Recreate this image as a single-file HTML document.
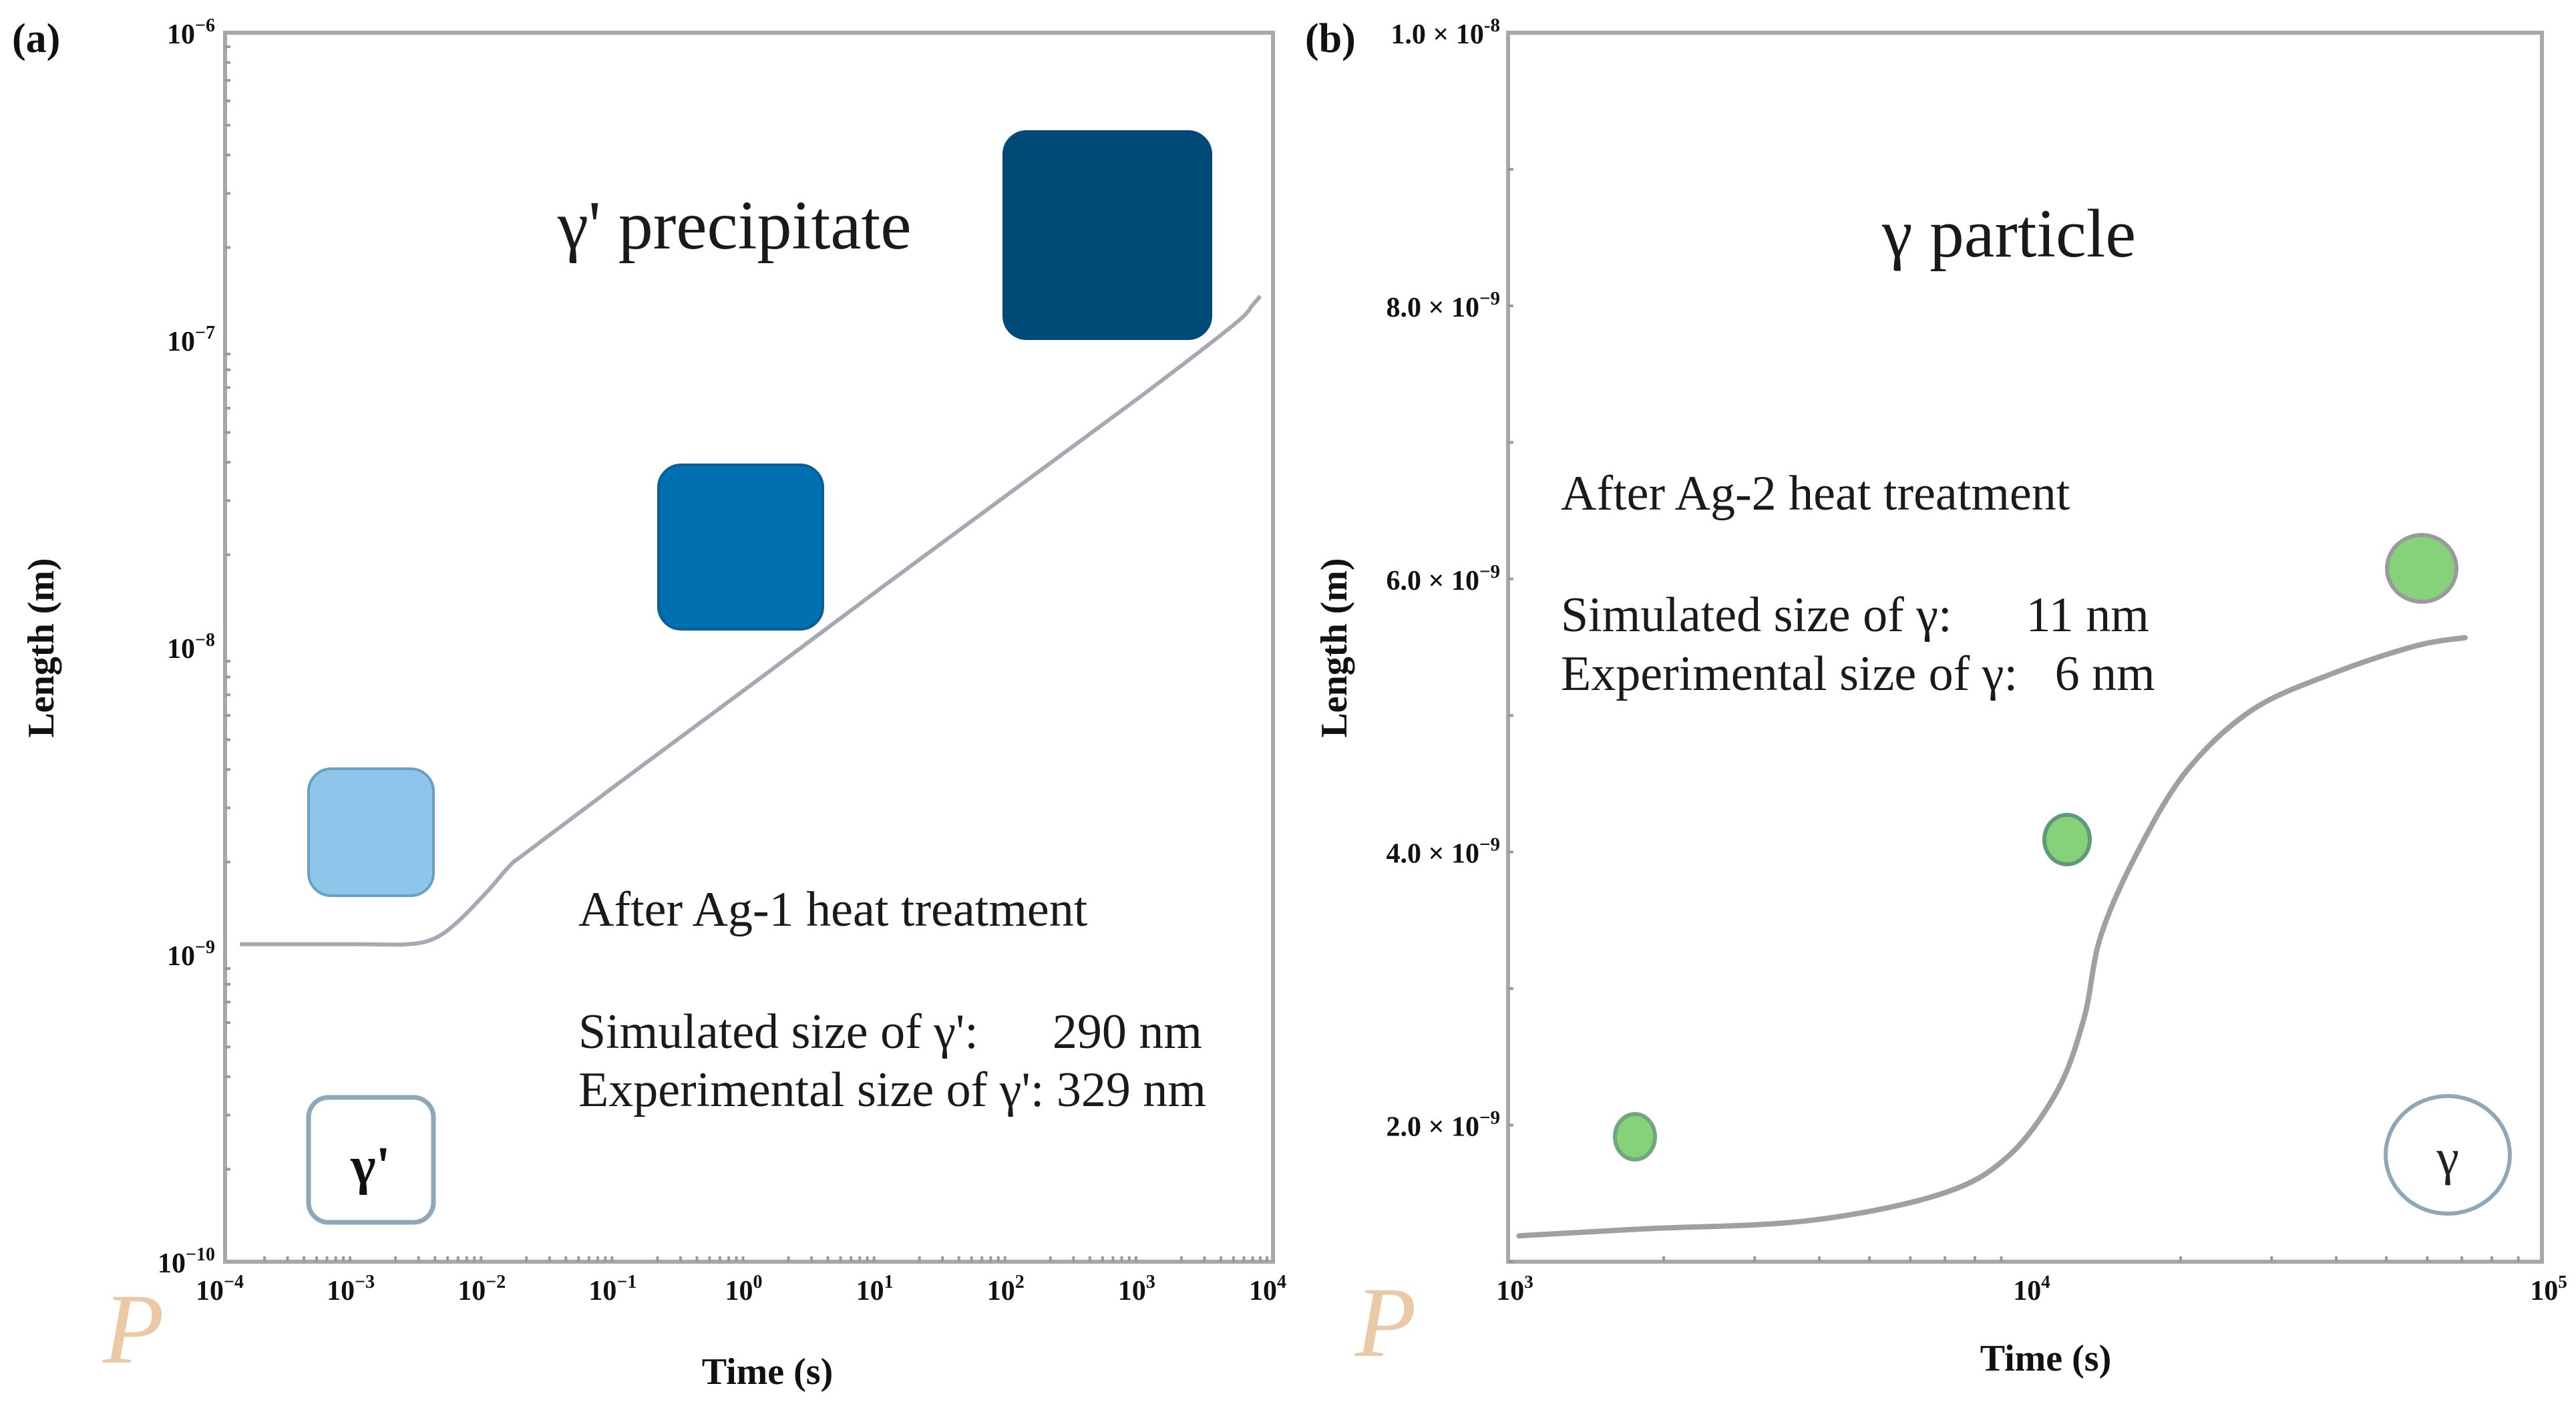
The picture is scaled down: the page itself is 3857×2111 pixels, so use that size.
<!DOCTYPE html>
<html><head><meta charset="utf-8"><style>
html,body{margin:0;padding:0;background:#fff;}
svg{display:block;}
text{font-family:"Liberation Serif",serif;}
.tk{font-weight:bold;font-size:42px;fill:#111;}
</style></head><body>
<svg id="fig" width="3857" height="2111" viewBox="0 0 3857 2111" xmlns="http://www.w3.org/2000/svg">
<g id="pa"></g>
<g id="pb"></g>
</svg>
<script>
// Panel (a) data
const aTime = [1.3e-4, 1e-3, 2.5e-3, 4e-3, 6e-3, 1e-2, 1.5e-2, 2e-2, 0.1, 1, 10, 100, 1000, 5000, 7000, 8000];
const aLength = [1.08e-9, 1.08e-9, 1.08e-9, 1.13e-9, 1.28e-9, 1.6e-9, 1.95e-9, 2.15e-9, 3.6e-9, 7.45e-9, 1.55e-8, 3.2e-8, 6.6e-8, 1.12e-7, 1.3e-7, 1.39e-7];
const aXTickExp = [-4, -3, -2, -1, 0, 1, 2, 3, 4];
const aYTickExp = [-6, -7, -8, -9, -10];
// Panel (b) data
const bTime = [1050, 1820, 3790, 6800, 9200, 11500, 13000, 14000, 16400, 20500, 27500, 39500, 57000, 71000];
const bLength = [1.19e-9, 1.24e-9, 1.30e-9, 1.49e-9, 1.76e-9, 2.24e-9, 2.78e-9, 3.38e-9, 3.98e-9, 4.59e-9, 5.04e-9, 5.31e-9, 5.51e-9, 5.57e-9];
const bYTicks = [2e-9, 4e-9, 6e-9, 8e-9, 1e-8];
const bYTickLabels = ["2.0 × 10", "4.0 × 10", "6.0 × 10", "8.0 × 10", "1.0 × 10"];
const bYTickExps = ["−9", "−9", "−9", "−9", "-8"];
const bXTickExp = [3, 4, 5];

const NS = "http://www.w3.org/2000/svg";
function mk(parent, tag, attrs, txt){
  const e = document.createElementNS(NS, tag);
  for (const k in attrs) e.setAttribute(k, attrs[k]);
  if (txt !== undefined) e.textContent = txt;
  parent.appendChild(e);
  return e;
}
function smooth(pts){
  let d = 'M' + pts[0][0].toFixed(1) + ',' + pts[0][1].toFixed(1);
  for (let i = 0; i < pts.length - 1; i++) {
    const p0 = pts[Math.max(i-1,0)], p1 = pts[i], p2 = pts[i+1], p3 = pts[Math.min(i+2, pts.length-1)];
    const c1x = p1[0] + (p2[0]-p0[0])/6, c1y = p1[1] + (p2[1]-p0[1])/6;
    const c2x = p2[0] - (p3[0]-p1[0])/6, c2y = p2[1] - (p3[1]-p1[1])/6;
    d += ' C' + c1x.toFixed(1) + ',' + c1y.toFixed(1) + ' ' + c2x.toFixed(1) + ',' + c2y.toFixed(1) + ' ' + p2[0].toFixed(1) + ',' + p2[1].toFixed(1);
  }
  return d;
}
const A = {x0:337, x1:1906, y0:49, y1:1889};
const ax = t => A.x0 + (Math.log10(t) + 4) / 8 * (A.x1 - A.x0);
const ay = L => A.y1 - (Math.log10(L) + 10) / 4 * (A.y1 - A.y0);
const B = {x0:2258, x1:3806, y0:49, y1:1889};
const bx = t => B.x0 + (Math.log10(t) - 3) / 2 * (B.x1 - B.x0);
const by = L => B.y1 - (L - 1e-9) / 9e-9 * (B.y1 - B.y0);

const pa = document.getElementById('pa');
const pb = document.getElementById('pb');

// ---------- Panel A ----------
let fr = mk(pa, 'rect', {x:A.x0, y:A.y0, width:A.x1-A.x0, height:A.y1-A.y0, fill:'none', stroke:'#a8a8a8', 'stroke-width':6});


for (let d = -4; d < 4; d++) for (let m = 2; m < 10; m++) {
  const x = ax(m * Math.pow(10, d));
  let t = mk(pa, 'line', {x1:x, x2:x, y1:A.y1, y2:A.y1-8, stroke:'#999', 'stroke-width':4});
  
  
}
for (let d = -10; d < -6; d++) for (let m = 2; m < 10; m++) {
  const y = ay(m * Math.pow(10, d));
  let t = mk(pa, 'line', {x1:A.x0, x2:A.x0+8, y1:y, y2:y, stroke:'#999', 'stroke-width':4});
  
  
}
aXTickExp.forEach(e => {
  const x = ax(Math.pow(10, e));
  const t = mk(pa, 'text', {x:x-8, y:1946, 'text-anchor':'middle', class:'tk'});
  
  
  mk(t, 'tspan', {}, '10');
  mk(t, 'tspan', {dy:-18, 'font-size':28}, e < 0 ? '−' + (-e) : String(e));
});
aYTickExp.forEach(e => {
  const y = ay(Math.pow(10, e));
  const t = mk(pa, 'text', {x:322, y:y+16, 'text-anchor':'end', class:'tk'});
  
  
  mk(t, 'tspan', {}, '10');
  mk(t, 'tspan', {dy:-18, 'font-size':28}, '−' + (-e));
});
const sq = [[462,1151,187,190,'#8ec5ea','#6a9fc4'],[986,696,246,246,'#0070b0','#0a5f95'],[1503,197,310,310,'#004a77','#004a77']];
sq.forEach((s,i) => {
  const r = mk(pa, 'rect', {x:s[0], y:s[1], width:s[2], height:s[3], rx:34, fill:s[4], stroke:s[5], 'stroke-width':4});
  
  
});
let leg = mk(pa, 'rect', {x:462, y:1643, width:187, height:187, rx:30, fill:'#fff', stroke:'#8fa8b8', 'stroke-width':7});


let lt = mk(pa, 'text', {x:555, y:1772, 'text-anchor':'middle', 'font-size':80, 'font-weight':'bold', fill:'#111'}, "γ'");


let ca = mk(pa, 'path', {d:smooth(aTime.map((t,i) => [ax(t), ay(aLength[i])])), fill:'none', stroke:'#a8a8b4', 'stroke-width':6, 'stroke-linejoin':'round'});


const aTexts = [["γ' precipitate", 835, 372, 104, 'plot-title-a'], ['After Ag-1 heat treatment', 866, 1386, 74, 'treatment-label-a'], ["Simulated size of γ':      290 nm", 866, 1569, 74, 'simulated-size-a'], ["Experimental size of γ': 329 nm", 866, 1656, 74, 'experimental-size-a']];
aTexts.forEach(s => {
  const t = mk(pa, 'text', {x:s[1], y:s[2], 'font-size':s[3], fill:'#1a1a1a'}, s[0]);
  t.style.whiteSpace = 'pre';
  
  
});
let pl = mk(pa, 'text', {x:18, y:78, 'font-size':62, 'font-weight':'bold', fill:'#111'}, '(a)');


let xt = mk(pa, 'text', {x:1149, y:2072, 'text-anchor':'middle', 'font-size':56, 'font-weight':'bold', fill:'#111'}, 'Time (s)');


let yt = mk(pa, 'text', {x:0, y:0, transform:'translate(80,970) rotate(-90)', 'text-anchor':'middle', 'font-size':56, 'font-weight':'bold', fill:'#111'}, 'Length (m)');


let wm = mk(pa, 'text', {x:200, y:2040, 'font-size':150, 'font-style':'italic', fill:'#ecc9a6', 'text-anchor':'middle'}, 'P');



// ---------- Panel B ----------
fr = mk(pb, 'rect', {x:B.x0, y:B.y0, width:B.x1-B.x0, height:B.y1-B.y0, fill:'none', stroke:'#a8a8a8', 'stroke-width':6});


for (let d = 3; d < 5; d++) for (let m = 2; m < 10; m++) {
  const x = bx(m * Math.pow(10, d));
  let t = mk(pb, 'line', {x1:x, x2:x, y1:B.y1, y2:B.y1-8, stroke:'#999', 'stroke-width':4});
  
  
}
for (let v = 1e-9; v < 1e-8; v += 1e-9) {
  const y = by(v);
  let t = mk(pb, 'line', {x1:B.x0, x2:B.x0+8, y1:y, y2:y, stroke:'#999', 'stroke-width':4});
  
  
}
bXTickExp.forEach(e => {
  const x = bx(Math.pow(10, e));
  const t = mk(pb, 'text', {x:x+10, y:1946, 'text-anchor':'middle', class:'tk', 'font-size':40});
  
  
  mk(t, 'tspan', {}, '10');
  mk(t, 'tspan', {dy:-18, 'font-size':27}, String(e));
});
bYTicks.forEach((v,i) => {
  const y = by(v);
  const t = mk(pb, 'text', {x:2246, y:y+16, 'text-anchor':'end', class:'tk', 'font-size':42});
  
  
  mk(t, 'tspan', {}, bYTickLabels[i]);
  mk(t, 'tspan', {dy:-18, 'font-size':29}, bYTickExps[i]);
});
const circ = [[2448,1702,30,34,'#6fa87c'],[3095,1257,34,37,'#5f9a7a'],[3626,851,52,50,'#9a9a9a']];
circ.forEach((c,i) => {
  const e = mk(pb, 'ellipse', {cx:c[0], cy:c[1], rx:c[2], ry:c[3], fill:'#86d27a', stroke:c[4], 'stroke-width':6});
  
  
});
let lc = mk(pb, 'ellipse', {cx:3665, cy:1729, rx:93, ry:88, fill:'#fff', stroke:'#8fa8b8', 'stroke-width':6});


let lg = mk(pb, 'text', {x:3665, y:1758, 'text-anchor':'middle', 'font-size':76, fill:'#222'}, 'γ');


let cb = mk(pb, 'path', {d:smooth(bTime.map((t,i) => [bx(t), by(bLength[i])])), fill:'none', stroke:'#a0a0a0', 'stroke-width':8, 'stroke-linejoin':'round', 'stroke-linecap':'round'});


const bTexts = [['γ particle', 2818, 384, 103, 'plot-title-b'], ['After Ag-2 heat treatment', 2337, 763, 74, 'treatment-label-b'], ['Simulated size of γ:      11 nm', 2337, 945, 74, 'simulated-size-b'], ['Experimental size of γ:   6 nm', 2337, 1033, 74, 'experimental-size-b']];
bTexts.forEach(s => {
  const t = mk(pb, 'text', {x:s[1], y:s[2], 'font-size':s[3], fill:'#1a1a1a'}, s[0]);
  t.style.whiteSpace = 'pre';
  
  
});
pl = mk(pb, 'text', {x:1954, y:78, 'font-size':62, 'font-weight':'bold', fill:'#111'}, '(b)');


xt = mk(pb, 'text', {x:3063, y:2052, 'text-anchor':'middle', 'font-size':56, 'font-weight':'bold', fill:'#111'}, 'Time (s)');


yt = mk(pb, 'text', {x:0, y:0, transform:'translate(2016,970) rotate(-90)', 'text-anchor':'middle', 'font-size':56, 'font-weight':'bold', fill:'#111'}, 'Length (m)');


wm = mk(pb, 'text', {x:2075, y:2030, 'font-size':150, 'font-style':'italic', fill:'#ecc9a6', 'text-anchor':'middle'}, 'P');


</script>
</body></html>
